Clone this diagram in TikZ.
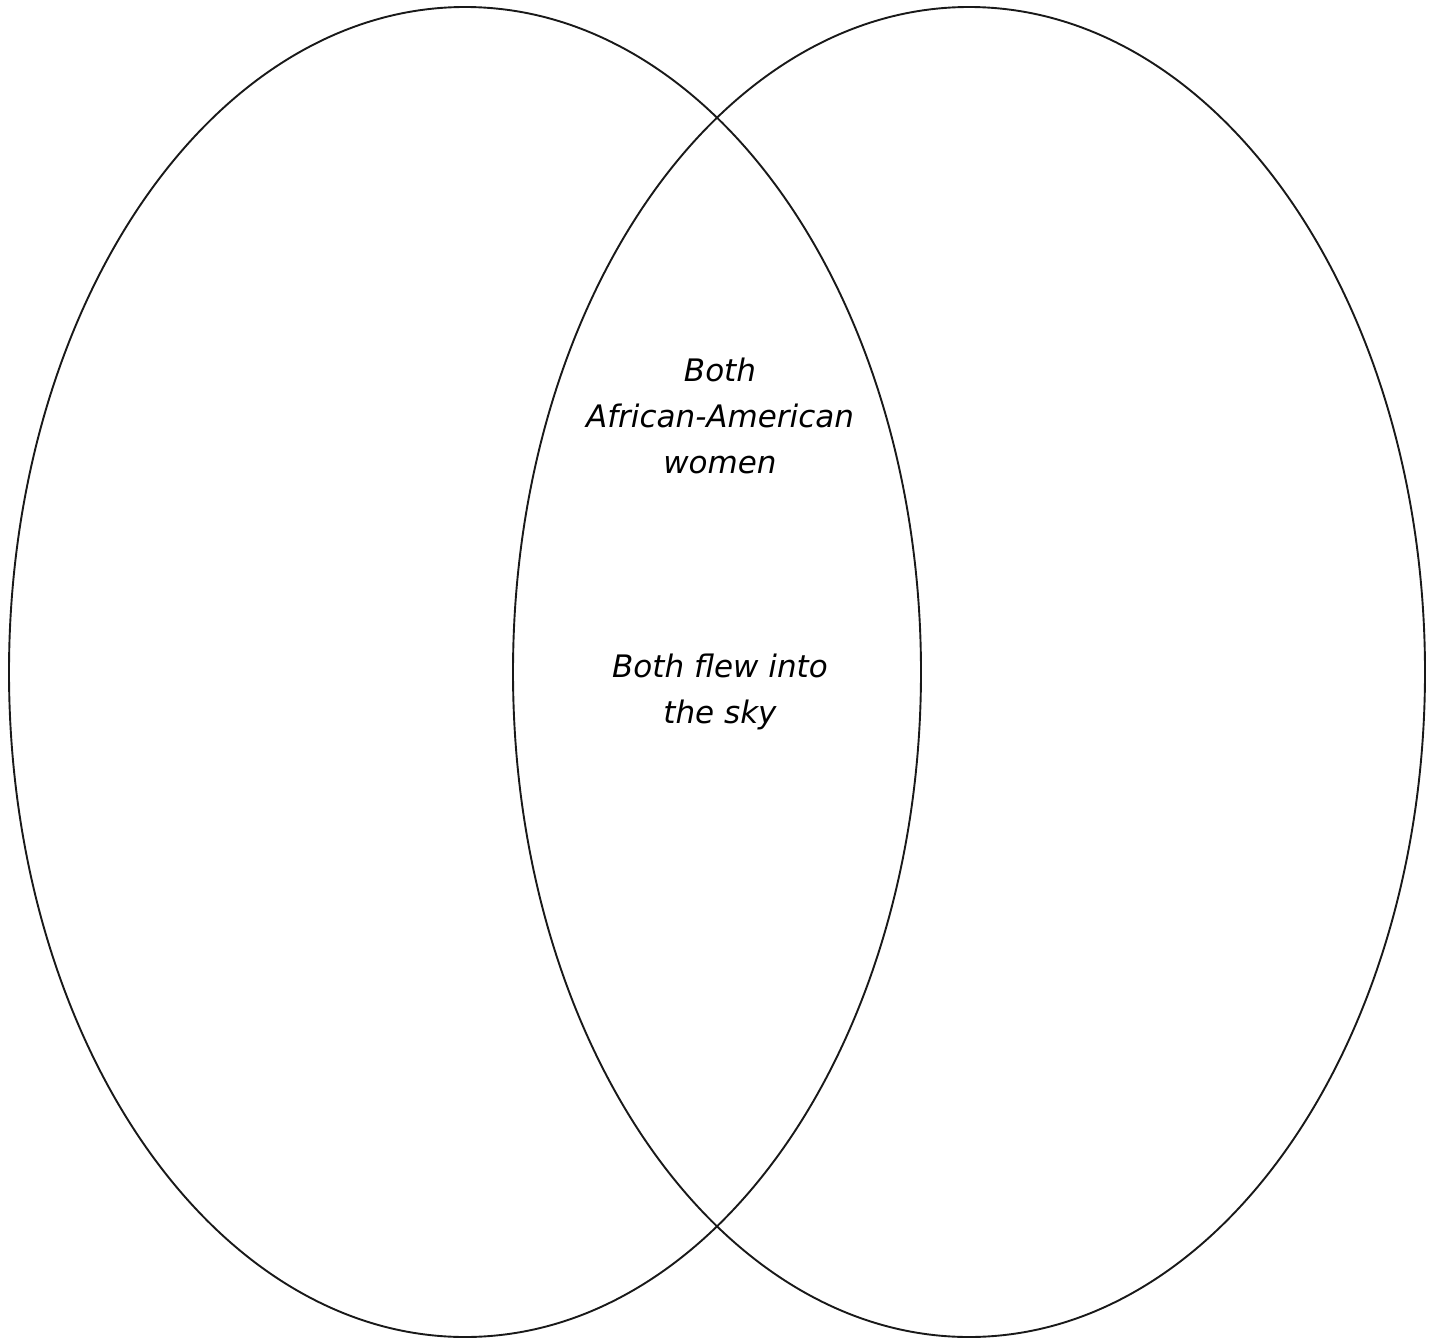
\documentclass[tikz,border=0pt]{standalone}
\usepackage{fontspec}
\setmainfont{DejaVu Sans}
\begin{document}
\begin{tikzpicture}[x=1pt,y=-1pt,
  venn/.style={draw=black!90,line width=1.9pt},
  lbl/.style={align=center,font=\fontsize{31}{46}\selectfont\itshape}]
\useasboundingbox (0,0) rectangle (1435,1338);
\draw[venn] (465,672) ellipse [x radius=456, y radius=665];
\draw[venn] (969,672) ellipse [x radius=456, y radius=665];
\node[lbl] (a) at (720,416) {Both\\African-American\\women};
\node[lbl] (b) at (720,692) {Both flew into\\the sky};
\end{tikzpicture}
\end{document}
